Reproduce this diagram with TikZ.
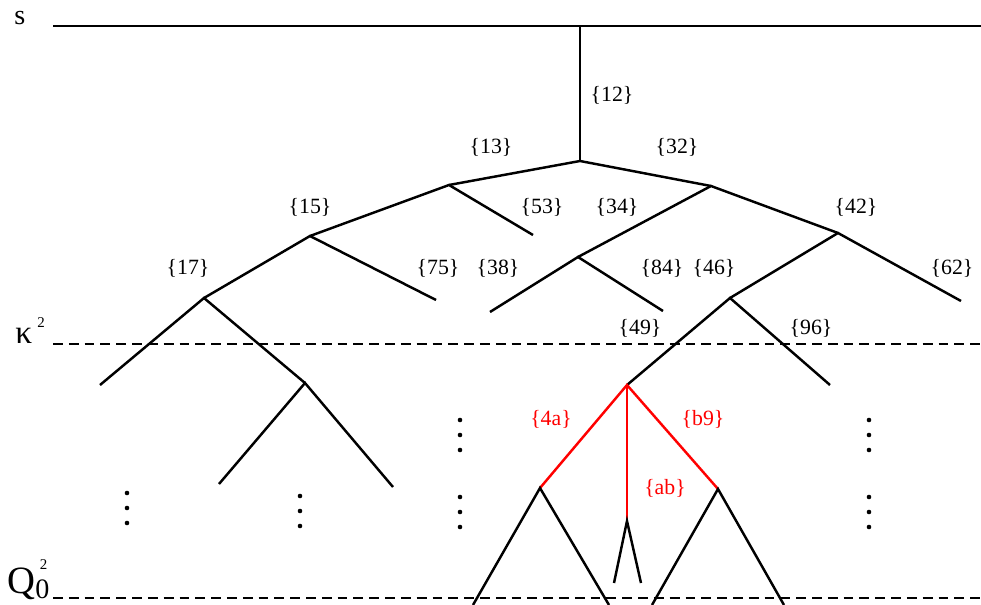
\documentclass[tikz,border=0pt]{standalone}
\usepackage{fontspec}
\setmainfont{Liberation Serif}
\usetikzlibrary{positioning}
\definecolor{ktred}{HTML}{FF0000}
\tikzset{
  branchLine/.style={line width=1.4pt, draw=black},
  redBranch/.style={branchLine, draw=ktred},
  scaleLine/.style={line width=0.6pt},
  cutLine/.style={line width=0.6pt, dash pattern=on 5.6pt off 3.4pt},
  pairLabel/.style={font=\fontsize{12.4}{14}\selectfont, inner sep=0pt},
  redLabel/.style={pairLabel, text=ktred},
  dotMark/.style={circle, fill=black, inner sep=0pt, minimum size=2.6pt}
}

\begin{document}
\begin{tikzpicture}[x=0.02cm,y=-0.02cm]
  \useasboundingbox (0,0) rectangle (981,605);
  % scales
  \node[anchor=base west, inner sep=0pt, font=\fontsize{16}{18}\selectfont] (sLab) at (14,25) {s};
  \node[anchor=base west, inner sep=0pt, font=\fontsize{19}{21}\selectfont] (kLab) at (15,343)
    {κ\rlap{\raisebox{9pt}{\fontsize{8.5}{10}\selectfont\hspace{3pt}2}}};
  \node[anchor=base west, inner sep=0pt, font=\fontsize{22}{24}\selectfont] (qLab) at (7,593)
    {Q\rlap{\raisebox{13.6pt}{\fontsize{8.5}{10}\selectfont\hspace{2.6pt}2}}\raisebox{-3.4pt}{\fontsize{16}{18}\selectfont 0}};
  \coordinate (sL) at (53,26);  \coordinate (sR) at (981,26);
  \coordinate (kL) at (53,344); \coordinate (kR) at (981,344);
  \coordinate (qL) at (53,598); \coordinate (qR) at (981,598);
  \draw[scaleLine] (sL) -- (sR);
  \draw[cutLine] (kL) -- (kR);
  \draw[cutLine] (qL) -- (qR);
  % vertices
  \coordinate (top) at (580,26);
  \coordinate (a) at (580,161);
  \coordinate (b) at (449,185);
  \coordinate (c) at (711,186);
  \coordinate (d) at (310,236);
  \coordinate (e) at (578,257);
  \coordinate (f) at (838,233);
  \coordinate (g) at (204,298);
  \coordinate (h) at (730,298);
  \coordinate (i) at (305,383);
  \coordinate (j) at (627,385);
  \coordinate (k) at (540,488);
  \coordinate (l) at (627,521);
  \coordinate (m) at (718,489);
  % free ends
  \coordinate (x53) at (533,235);
  \coordinate (x75) at (436,300);
  \coordinate (x38) at (490,312);
  \coordinate (x84) at (663,311);
  \coordinate (x62) at (961,301);
  \coordinate (x96) at (830,385);
  \coordinate (g1) at (100,385);
  \coordinate (i1) at (219,484);
  \coordinate (i2) at (393,487);
  \coordinate (k1) at (473,605);
  \coordinate (k2) at (609,605);
  \coordinate (l1) at (614,583);
  \coordinate (l2) at (641,583);
  \coordinate (m1) at (652,605);
  \coordinate (m2) at (784,605);
  % tree
  \draw[branchLine] (top) -- (a);
  \draw[branchLine] (b) -- (a) -- (c);
  \draw[branchLine] (d) -- (b) -- (x53);
  \draw[branchLine] (e) -- (c) -- (f);
  \draw[branchLine] (g) -- (d) -- (x75);
  \draw[branchLine] (x38) -- (e) -- (x84);
  \draw[branchLine] (h) -- (f) -- (x62);
  \draw[branchLine] (g1) -- (g) -- (i);
  \draw[branchLine] (i1) -- (i) -- (i2);
  \draw[branchLine] (j) -- (h) -- (x96);
  \draw[redBranch] (k) -- (j) -- (m);
  \draw[redBranch] (j) -- (l);
  \draw[branchLine] (k1) -- (k) -- (k2);
  \draw[branchLine] (l1) -- (l) -- (l2);
  \draw[branchLine] (m1) -- (m) -- (m2);
  % labels
  \node[pairLabel] (t12) at (612,95) {\{12\}};
  \node[pairLabel] (t13) at (491,147) {\{13\}};
  \node[pairLabel] (t32) at (677,147) {\{32\}};
  \node[pairLabel] (t15) at (310,207) {\{15\}};
  \node[pairLabel] (t53) at (542,207) {\{53\}};
  \node[pairLabel] (t34) at (617,207) {\{34\}};
  \node[pairLabel] (t42) at (856,207) {\{42\}};
  \node[pairLabel] (t17) at (188,268) {\{17\}};
  \node[pairLabel] (t75) at (438,268) {\{75\}};
  \node[pairLabel] (t38) at (498,268) {\{38\}};
  \node[pairLabel] (t84) at (662,268) {\{84\}};
  \node[pairLabel] (t46) at (714,268) {\{46\}};
  \node[pairLabel] (t62) at (952,268) {\{62\}};
  \node[pairLabel] (t49) at (640,328) {\{49\}};
  \node[pairLabel] (t96) at (811,328) {\{96\}};
  \node[redLabel] (t4a) at (551,419) {\{4a\}};
  \node[redLabel] (tb9) at (703,419) {\{b9\}};
  \node[redLabel] (tab) at (665,488) {\{ab\}};
  % dots
  \foreach \dx/\dy in {127/493, 300/496, 460/420, 460/497, 869/420, 869/497}
    \foreach \k in {0,1,2}
      \node[dotMark] (d\dx-\dy-\k) at (\dx,\dy+15*\k) {};
\end{tikzpicture}
\end{document}
